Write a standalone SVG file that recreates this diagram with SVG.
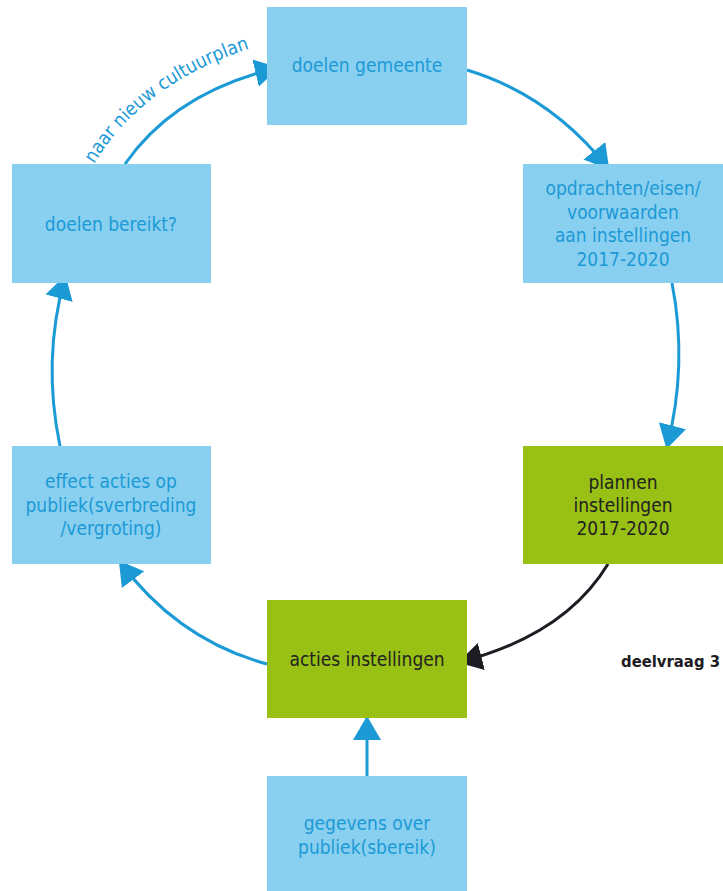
<svg xmlns="http://www.w3.org/2000/svg" width="723" height="891" viewBox="0 0 723 891">
<defs>
<style>
.blue{fill:#89cff0}
.green{fill:#99c014}
.t{font-family:"DejaVu Sans Condensed","DejaVu Sans",Verdana,sans-serif;font-size:19px;text-anchor:middle;fill:#1b9ad6}
.tk{fill:#222}
.c{fill:none;stroke:#1b9ad6;stroke-width:3}
.ck{fill:none;stroke:#1c1c22;stroke-width:3}
</style>
<marker id="ab" viewBox="0 0 24 28" refX="22" refY="14" markerWidth="24" markerHeight="28" markerUnits="userSpaceOnUse" orient="auto"><path d="M0,0 L24,14 L0,28 z" fill="#1b9ad6"/></marker>
<marker id="ak" viewBox="0 0 24 28" refX="22" refY="14" markerWidth="24" markerHeight="28" markerUnits="userSpaceOnUse" orient="auto"><path d="M0,0 L24,14 L0,28 z" fill="#1c1c22"/></marker>
<path id="lp" d="M94,164 Q150,72 280,40"/>
</defs>
<rect width="723" height="891" fill="#fff"/>
<g id="connectors">
<path class="c" d="M125,164 Q175,92 277,68" marker-end="url(#ab)"/>
<path class="c" d="M467,70 Q550,95 608,168" marker-end="url(#ab)"/>
<path class="c" d="M672,283 Q688,365 667,447" marker-end="url(#ab)"/>
<path class="ck" d="M608,564 Q565,635 460,662" marker-end="url(#ak)"/>
<path class="c" d="M267,664 Q178,640 120,562" marker-end="url(#ab)"/>
<path class="c" d="M60,446 Q42,360 65,277" marker-end="url(#ab)"/>
<path class="c" d="M367,776 L367,718" marker-end="url(#ab)"/>
<text class="t" style="font-size:19px;text-anchor:start"><textPath href="#lp">naar nieuw cultuurplan</textPath></text>
</g>
<g id="doelen-gemeente"><rect class="blue" x="267" y="7" width="200" height="118"/><text class="t" x="367" y="72">doelen gemeente</text></g>
<g id="opdrachten"><rect class="blue" x="523" y="164" width="200" height="119"/><text class="t" x="623" y="195">opdrachten/eisen/<tspan x="623" dy="23.5">voorwaarden</tspan><tspan x="623" dy="23.5">aan instellingen</tspan><tspan x="623" dy="23.5">2017-2020</tspan></text></g>
<g id="plannen"><rect class="green" x="523" y="446" width="200" height="118"/><text class="t tk" x="623" y="489">plannen<tspan x="623" dy="23">instellingen</tspan><tspan x="623" dy="23">2017-2020</tspan></text></g>
<g id="acties"><rect class="green" x="267" y="600" width="200" height="118"/><text class="t tk" x="367" y="666">acties instellingen</text></g>
<g id="gegevens"><rect class="blue" x="267" y="776" width="200" height="115"/><text class="t" x="367" y="830">gegevens over<tspan x="367" dy="24">publiek(sbereik)</tspan></text></g>
<g id="effect"><rect class="blue" x="12" y="446" width="199" height="118"/><text class="t" x="111" y="488">effect acties op<tspan x="111" dy="23.5">publiek(sverbreding</tspan><tspan x="111" dy="23.5">/vergroting)</tspan></text></g>
<g id="doelen-bereikt"><rect class="blue" x="12" y="164" width="199" height="119"/><text class="t" x="111" y="231">doelen bereikt?</text></g>
<g id="deelvraag"><text x="720" y="667" style="font-family:'DejaVu Sans Condensed','DejaVu Sans',Verdana,sans-serif;font-weight:bold;font-size:16.5px;text-anchor:end;fill:#1c1c22">deelvraag 3</text></g>
</svg>
